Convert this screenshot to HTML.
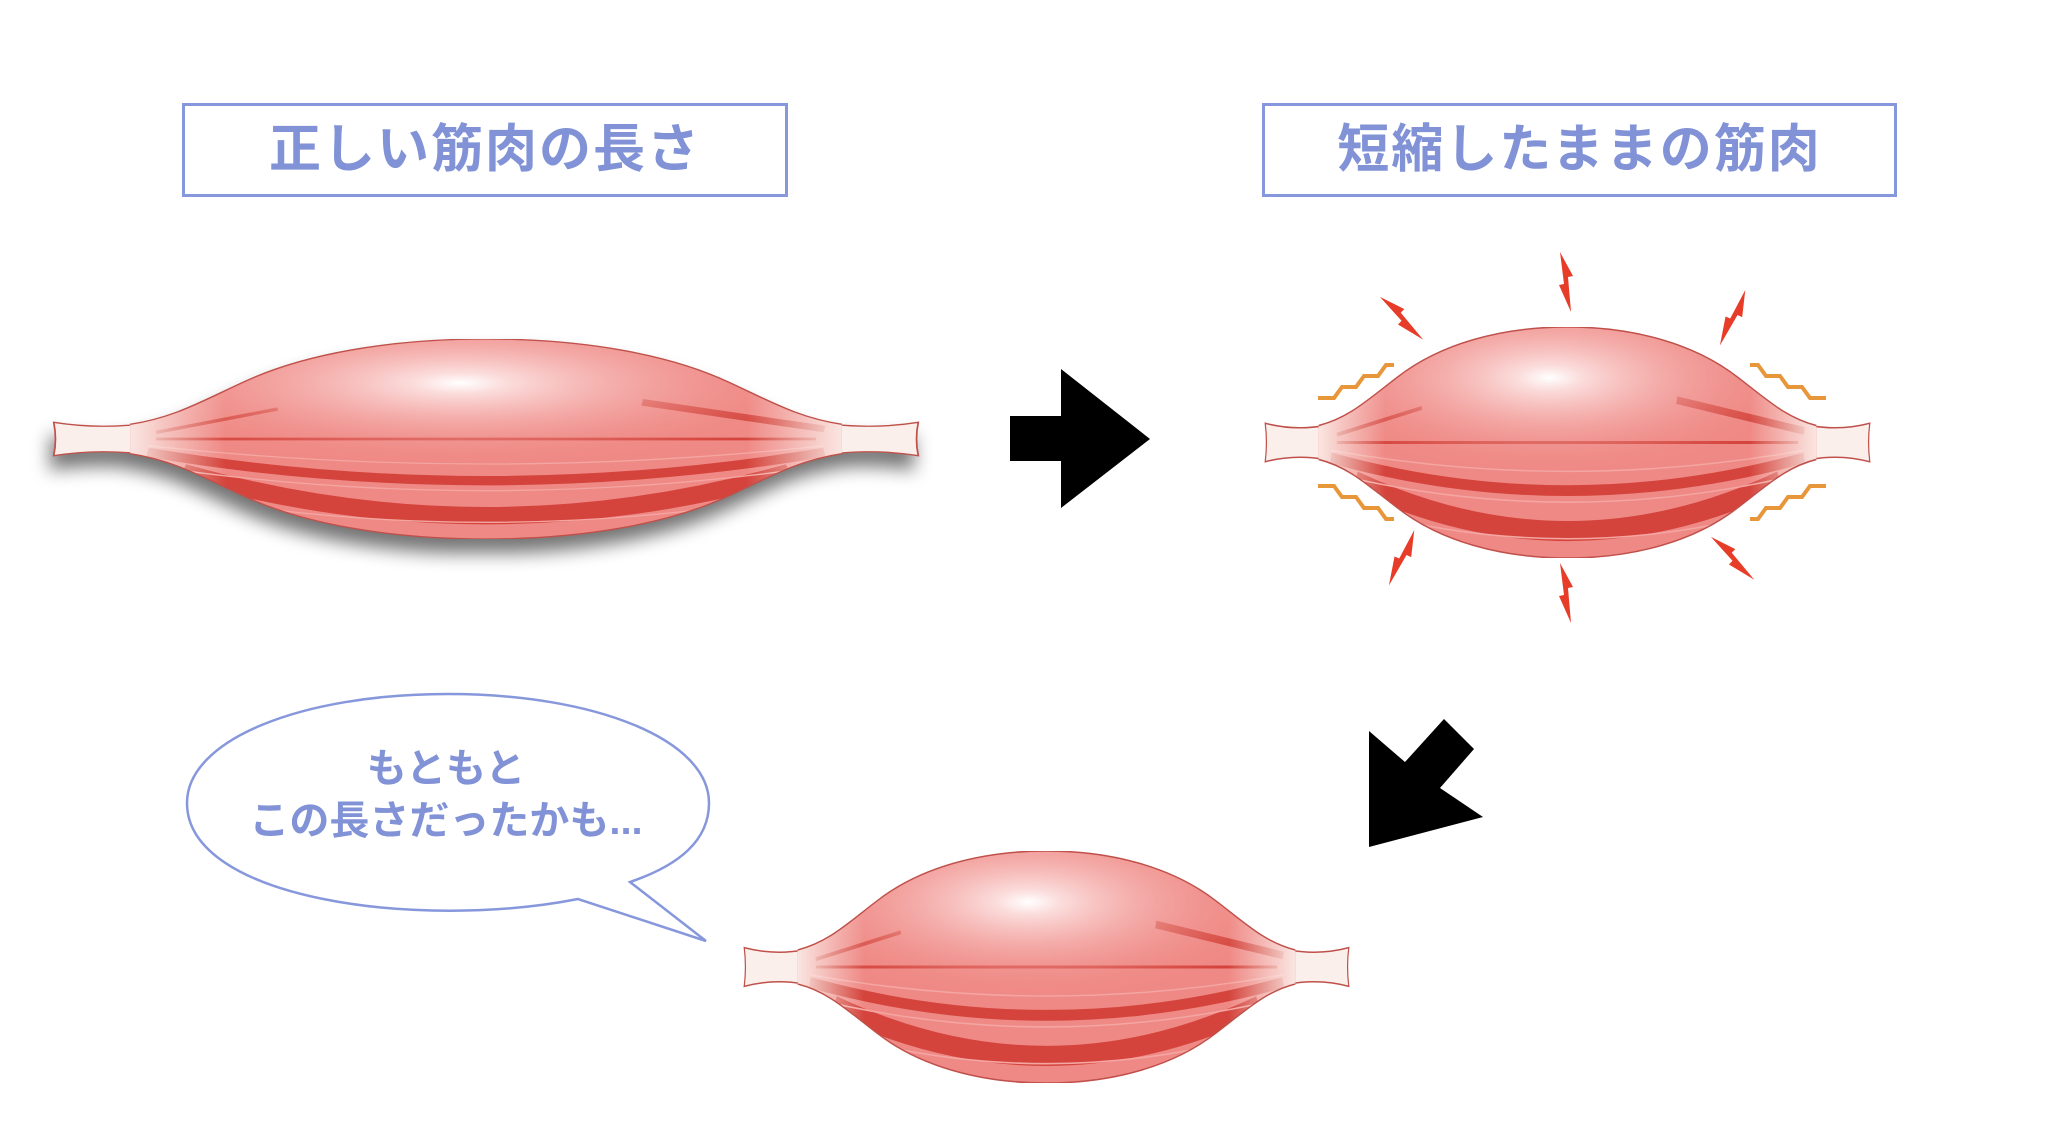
<!DOCTYPE html>
<html><head><meta charset="utf-8"><style>
html,body{margin:0;padding:0;background:#fff;}
body{width:2048px;height:1132px;position:relative;overflow:hidden;font-family:"Liberation Sans","Noto Sans CJK JP",sans-serif;}
.box{position:absolute;border:3px solid #8797dc;box-sizing:border-box;color:#8192d6;font-weight:bold;font-size:52px;text-align:center;letter-spacing:2px;}
</style></head><body>
<div class="box" style="left:182px;top:103px;width:606px;height:94px;line-height:88px;">正しい筋肉の長さ</div>
<div class="box" style="left:1262px;top:103px;width:635px;height:94px;line-height:88px;">短縮したままの筋肉</div>
<svg width="2048" height="1132" style="position:absolute;left:0;top:0">
<defs>
<radialGradient id="hl" cx="0.47" cy="0.22" r="0.42">
<stop offset="0" stop-color="#fff"/><stop offset="0.12" stop-color="#fbdedd"/><stop offset="1" stop-color="#ef8985" stop-opacity="0"/>
</radialGradient>
<linearGradient id="fade" x1="0" x2="1">
<stop offset="0.08" stop-color="#fbeeea"/><stop offset="0.2" stop-color="#fbeeea" stop-opacity="0"/><stop offset="0.8" stop-color="#fbeeea" stop-opacity="0"/><stop offset="0.92" stop-color="#fbeeea"/>
</linearGradient>
<filter id="sh" x="-10%" y="-30%" width="120%" height="170%">
<feGaussianBlur in="SourceAlpha" stdDeviation="9"/><feOffset dx="-4" dy="14"/>
<feComponentTransfer><feFuncA type="linear" slope="0.55"/></feComponentTransfer></filter>
<clipPath id="cb"><path d="M90,128 C140,118 170,95 220,65 C290,22 390,0 500,0 C610,0 710,22 780,65 C830,95 860,118 910,128 L910,172 C860,182 830,205 780,235 C710,278 610,300 500,300 C390,300 290,278 220,235 C170,205 140,182 90,172 Z"/></clipPath>
<symbol id="m" viewBox="0 0 1000 300" preserveAspectRatio="none">
<path d="M2,125 Q6,150 2,175 Q50,165 100,172 L100,128 Q50,135 2,125 Z" fill="#fbefec" stroke="#c0504a" stroke-width="2"/>
<path d="M998,125 Q994,150 998,175 Q950,165 900,172 L900,128 Q950,135 998,125 Z" fill="#fbefec" stroke="#c0504a" stroke-width="2"/>
<path d="M90,128 C140,118 170,95 220,65 C290,22 390,0 500,0 C610,0 710,22 780,65 C830,95 860,118 910,128 L910,172 C860,182 830,205 780,235 C710,278 610,300 500,300 C390,300 290,278 220,235 C170,205 140,182 90,172 Z" fill="#ef8985"/>
<g clip-path="url(#cb)" fill="none">
<path d="M150,200 Q500,330 850,200" stroke="#d4443c" stroke-width="26"/>
<path d="M110,170 Q500,255 890,170" stroke="#d4443c" stroke-width="14"/>
<path d="M120,150 L880,150" stroke="#d4443c" stroke-width="4"/>
<path d="M680,95 L890,135" stroke="#d4443c" stroke-width="10"/>
<path d="M120,140 L260,105" stroke="#d4443c" stroke-width="5"/>
<path d="M110,160 Q500,215 890,160 M110,190 Q500,265 890,190 M120,230 Q500,320 880,230" stroke="#f4a6a2" stroke-width="2"/>
<rect width="1000" height="300" fill="url(#hl)"/>
<rect width="1000" height="300" fill="url(#fade)"/>
</g>
<path d="M90,128 C140,118 170,95 220,65 C290,22 390,0 500,0 C610,0 710,22 780,65 C830,95 860,118 910,128 M910,172 C860,182 830,205 780,235 C710,278 610,300 500,300 C390,300 290,278 220,235 C170,205 140,182 90,172" fill="none" stroke="#c0504a" stroke-width="2"/>
</symbol>
<g id="bolt"><path d="M-6,-30 L7,-6 L2,-5 L5,30 L-7,3 L-2,2 Z" fill="#e73c28"/></g>
</defs>
<use href="#m" x="52" y="339" width="868" height="200" filter="url(#sh)"/>
<use href="#m" x="52" y="339" width="868" height="200"/>
<use href="#m" x="1264" y="327" width="607" height="231"/>
<use href="#m" x="743" y="851" width="607" height="232"/>
<polygon points="1010,416 1061,416 1061,369 1150,439 1061,508 1061,461 1010,461" fill="#000"/>
<polygon points="1369,847 1369,731 1405,762 1444,719 1474,749 1440,788 1483,817" fill="#000"/>
<use href="#bolt" transform="translate(1566,282)"/>
<use href="#bolt" transform="translate(1566,593)"/>
<use href="#bolt" transform="translate(1402,318) rotate(-35)"/>
<use href="#bolt" transform="translate(1733,318) rotate(35)"/>
<use href="#bolt" transform="translate(1402,558) rotate(35)"/>
<use href="#bolt" transform="translate(1733,558) rotate(-35)"/>
<g fill="none" stroke="#e8963a" stroke-width="4">
<polyline points="1318,398 1334,398 1342,387 1356,387 1364,376 1378,376 1386,365 1394,365"/>
<polyline points="1826,398 1810,398 1802,387 1788,387 1780,376 1766,376 1758,365 1750,365"/>
<polyline points="1318,486 1334,486 1342,497 1356,497 1364,508 1378,508 1386,519 1394,519"/>
<polyline points="1826,486 1810,486 1802,497 1788,497 1780,508 1766,508 1758,519 1750,519"/>
</g>
<path d="M578,899 C420,930 187,900 187,803 C187,740 300,694 448,694 C596,694 709,740 709,803 C709,840 680,865 630,882 L706,941 Z" fill="#fff" stroke="#8797dc" stroke-width="2.5"/>
<text x="446" y="782" text-anchor="middle" font-size="40" font-weight="bold" fill="#8192d6" font-family="Liberation Sans, Noto Sans CJK JP, sans-serif">もともと</text>
<text x="446" y="834" text-anchor="middle" font-size="40" font-weight="bold" fill="#8192d6" font-family="Liberation Sans, Noto Sans CJK JP, sans-serif">この長さだったかも...</text>
</svg>
</body></html>
